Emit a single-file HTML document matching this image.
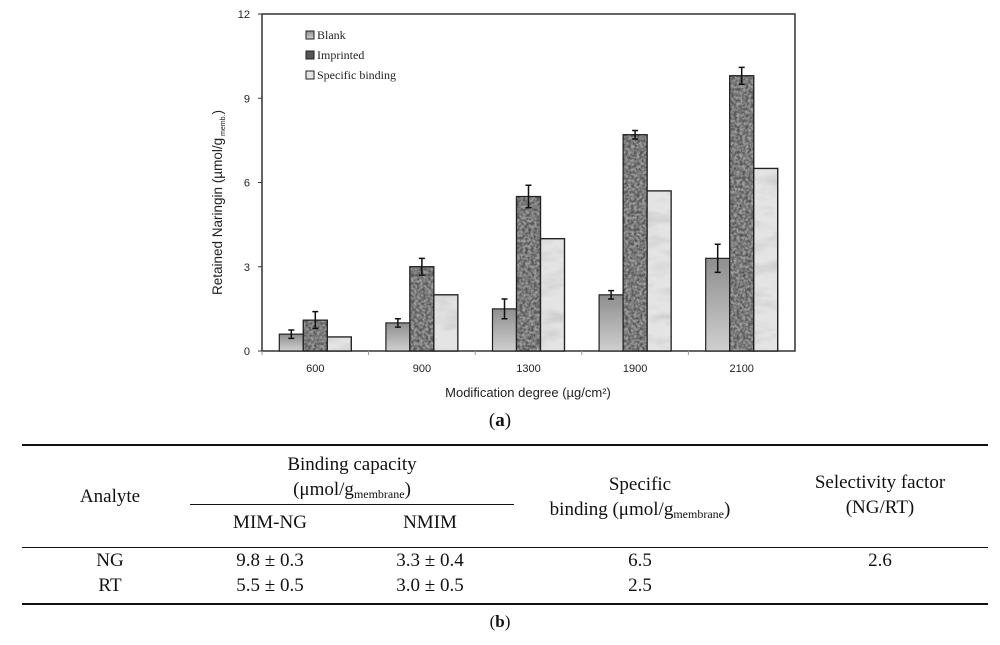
<!DOCTYPE html>
<html><head><meta charset="utf-8">
<style>
body{margin:0;background:#fff;width:1000px;height:645px;overflow:hidden;position:relative;font-family:"Liberation Serif",serif;}
.t{position:absolute;font-size:19px;color:#111;text-align:center;white-space:nowrap;}
.rule{position:absolute;background:#111;}
sub{font-size:12px;vertical-align:-3px;}
</style></head><body>
<svg id="chart" width="1000" height="440" style="position:absolute;left:0;top:0">
<defs>
<linearGradient id="gBlank" x1="0" y1="0" x2="0" y2="1"><stop offset="0" stop-color="#8e8e8e"/><stop offset="1" stop-color="#cfcfcf"/></linearGradient>
<filter id="fImp" x="0" y="0" width="1" height="1"><feTurbulence type="fractalNoise" baseFrequency="0.35" numOctaves="2" seed="3"/><feColorMatrix type="matrix" values="0 0 0 0 0.35  0 0 0 0 0.35  0 0 0 0 0.35  0 0 0 -2.2 1.6"/><feComposite in2="SourceGraphic" operator="in"/></filter>
<filter id="fSpec" x="0" y="0" width="1" height="1"><feTurbulence type="fractalNoise" baseFrequency="0.03 0.08" numOctaves="3" seed="7"/><feColorMatrix type="matrix" values="0 0 0 0 0.55  0 0 0 0 0.55  0 0 0 0 0.55  0 0 0 -1.6 0.9"/><feComposite in2="SourceGraphic" operator="in"/></filter>
</defs>
<g id="plot"></g>
</svg>
<div class="t" style="left:480px;top:410px;width:40px;font-size:19px">(<b>a</b>)</div>

<div class="rule" style="left:22px;top:444px;width:966px;height:2px"></div>
<div class="rule" style="left:190px;top:504px;width:324px;height:1px"></div>
<div class="rule" style="left:22px;top:547px;width:966px;height:1px"></div>
<div class="rule" style="left:22px;top:603px;width:966px;height:2px"></div>

<div class="t" style="left:50px;top:486px;width:120px">Analyte</div>
<div class="t" style="left:190px;top:452px;width:324px;line-height:25px">Binding capacity<br>(μmol/g<sub>membrane</sub>)</div>
<div class="t" style="left:200px;top:512px;width:140px">MIM-NG</div>
<div class="t" style="left:360px;top:512px;width:140px">NMIM</div>
<div class="t" style="left:510px;top:472px;width:260px;line-height:25px">Specific<br>binding (μmol/g<sub>membrane</sub>)</div>
<div class="t" style="left:780px;top:470px;width:200px;line-height:25px">Selectivity factor<br>(NG/RT)</div>

<div class="t" style="left:50px;top:550px;width:120px">NG</div>
<div class="t" style="left:200px;top:550px;width:140px">9.8 ± 0.3</div>
<div class="t" style="left:360px;top:550px;width:140px">3.3 ± 0.4</div>
<div class="t" style="left:510px;top:550px;width:260px">6.5</div>
<div class="t" style="left:780px;top:550px;width:200px">2.6</div>
<div class="t" style="left:50px;top:575px;width:120px">RT</div>
<div class="t" style="left:200px;top:575px;width:140px">5.5 ± 0.5</div>
<div class="t" style="left:360px;top:575px;width:140px">3.0 ± 0.5</div>
<div class="t" style="left:510px;top:575px;width:260px">2.5</div>
<div class="t" style="left:480px;top:612px;width:40px;font-size:17px">(<b>b</b>)</div>

<script>
const categories=["600","900","1300","1900","2100"];
const blankVals=[0.6,1.0,1.5,2.0,3.3];
const blankErr=[0.15,0.15,0.35,0.15,0.5];
const impVals=[1.1,3.0,5.5,7.7,9.8];
const impErr=[0.3,0.3,0.4,0.15,0.3];
const specVals=[0.5,2.0,4.0,5.7,6.5];
const yTicks=[0,3,6,9,12];

const NS="http://www.w3.org/2000/svg";
const g=document.getElementById('plot');
const X0=262,X1=795,Y0=351,Y1=14,YMAX=12;
const gw=(X1-X0)/categories.length, bw=24;
const y=v=>Y0-(v/YMAX)*(Y0-Y1);
const xg=i=>X0+gw*i;
function el(tag,attrs,parent){const e=document.createElementNS(NS,tag);for(const k in attrs)e.setAttribute(k,attrs[k]);(parent||g).appendChild(e);return e;}
function txt(s,attrs){const e=el('text',attrs);e.textContent=s;return e;}

const frame=el('rect',{x:X0,y:Y1,width:X1-X0,height:Y0-Y1,fill:'none',stroke:'#333','stroke-width':1.5});


yTicks.forEach(v=>{
  const t=txt(String(v),{x:X0-12,y:y(v)+4,'text-anchor':'end','font-family':'Liberation Sans,sans-serif','font-size':11,fill:'#222'});
  
  
  el('line',{x1:X0-4,x2:X0,y1:y(v),y2:y(v),stroke:'#333'});
});
categories.forEach((c,i)=>{
  const t=txt(c,{x:xg(i)+gw/2,y:372,'text-anchor':'middle','font-family':'Liberation Sans,sans-serif','font-size':11,fill:'#222'});
  
  
  el('line',{x1:xg(i),x2:xg(i),y1:Y0,y2:Y0+4,stroke:'#999'});
  const bx=xg(i)+gw/2-1.5*bw;
  const series=[[blankVals[i],'url(#gBlank)',null,'bar-blank',blankErr[i]],[impVals[i],'#555','fImp','bar-imprinted',impErr[i]],[specVals[i],'#e4e4e4','fSpec','bar-specific-binding',null]];
  series.forEach((s,k)=>{
    const x=bx+k*bw;
    const r=el('rect',{x:x,y:y(s[0]),width:bw,height:Y0-y(s[0]),fill:s[1],stroke:'#222','stroke-width':1.2});
    
    
    if(s[2]){el('rect',{x:x,y:y(s[0]),width:bw,height:Y0-y(s[0]),fill:'#fff',filter:'url(#'+s[2]+')'});
      el('rect',{x:x,y:y(s[0]),width:bw,height:Y0-y(s[0]),fill:'none',stroke:'#222','stroke-width':1.2});}
    if(s[4]!=null){
      const cx=x+bw/2,a=y(s[0]+s[4]),b=y(s[0]-s[4]);
      const e=el('path',{d:`M${cx},${a}V${b}M${cx-3},${a}H${cx+3}M${cx-3},${b}H${cx+3}`,stroke:'#111','stroke-width':1.5,fill:'none'});
      
      
    }
  });
});
const yt=txt('Retained Naringin (µmol/g',{transform:'translate(222,295) rotate(-90)','font-family':'Liberation Sans,sans-serif','font-size':13.5,fill:'#222'});


const ys=document.createElementNS(NS,'tspan');ys.setAttribute('font-size','7');ys.setAttribute('dy','3');ys.textContent=' memb.';yt.appendChild(ys);
const ye=document.createElementNS(NS,'tspan');ye.setAttribute('dy','-3');ye.textContent=')';yt.appendChild(ye);
const xt=txt('Modification degree (µg/cm²)',{x:528,y:397,'text-anchor':'middle','font-family':'Liberation Sans,sans-serif','font-size':13,fill:'#222'});


const leg=[['Blank','url(#gBlank)',null],['Imprinted','#555','fImp'],['Specific binding','#e4e4e4','fSpec']];
leg.forEach((l,k)=>{
  const ly=35+k*20;
  const sw=el('rect',{x:306,y:ly-4,width:8,height:8,fill:l[1],stroke:'#222'});
  
  
  const t=txt(l[0],{x:317,y:ly+4,'font-family':'Liberation Serif,serif','font-size':12,fill:'#222'});
  
  
});
</script>
</body></html>
